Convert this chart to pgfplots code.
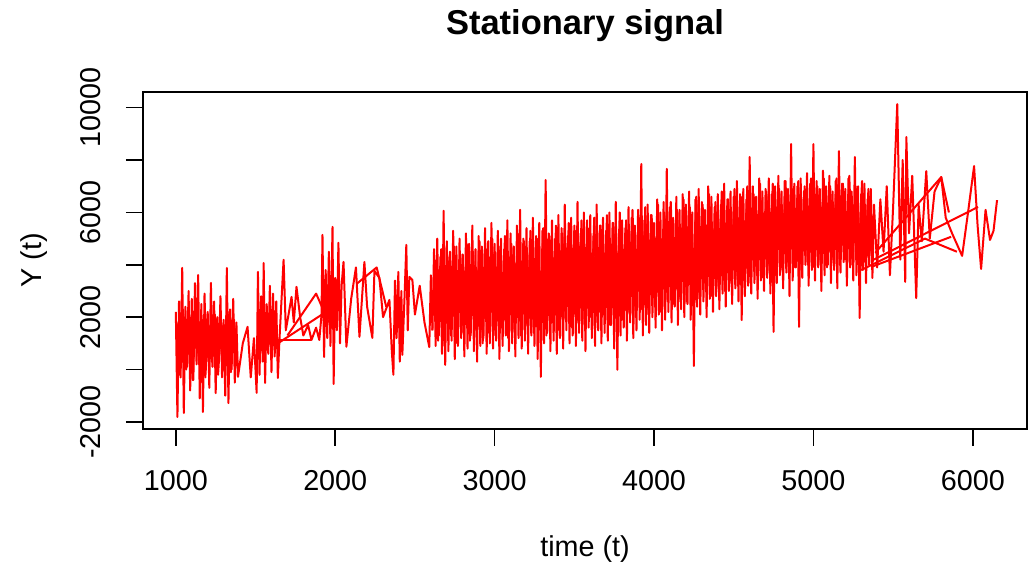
\documentclass[border=0pt]{standalone}
\usepackage{fontspec}
\setmainfont{Liberation Sans}
\usepackage{pgfplots}
\pgfplotsset{compat=1.18}

\tikzset{sig/.style={color=red, line width=0.8pt, line join=round, mark=none}}

\begin{document}
\begin{tikzpicture}
\begin{axis}[
    name=ax,
    scale only axis,
    width=353.6pt, height=134.8pt,
    xmin=794, xmax=6340, ymin=-2270, ymax=10600,
    scaled x ticks=false, scaled y ticks=false,
    axis line style={line width=0.6pt, black},
    tick pos=left, tick align=outside,
    major tick length=6.8pt,
    every tick/.style={black, line width=0.6pt},
    xtick={1000,2000,3000,4000,5000,6000},
    xticklabels={1000,2000,3000,4000,5000,6000},
    ytick={-2000,0,2000,4000,6000,8000,10000},
    yticklabels={-2000,,2000,,6000,,10000},
    every tick label/.append style={font=\fontsize{11.5}{13}\selectfont, inner sep=0pt},
    xticklabel style={anchor=center, yshift=-14pt},
    yticklabel style={xshift=-14pt, rotate=90, anchor=center},
    title={Stationary signal},
    title style={font=\bfseries\fontsize{13.8}{16}\selectfont, at={(axis description cs:0.5,1.1246)}, anchor=base, inner sep=0pt},
    xlabel={time (t)},
    xlabel style={font=\fontsize{11.5}{13}\selectfont, at={(axis description cs:0.5,-0.3798)}, anchor=base, inner sep=0pt},
    ylabel={Y (t)},
    ylabel style={font=\fontsize{11.5}{13}\selectfont, at={(axis description cs:-0.1143,0.5)}, anchor=base, inner sep=0pt},
]
% first bursts, 1000 - 2620
\addplot[sig] coordinates {
(1000,2200)(1010,-1810)(1020,2600)(1030,-300)(1040,3880)(1050,-1660)(1060,2400)(1070,100)
(1080,3000)(1090,-800)(1100,2700)(1110,-400)(1120,3300)(1130,200)(1140,3610)(1150,-1100)
(1160,2500)(1170,-1620)(1180,2900)(1190,300)(1200,2200)(1210,-700)(1220,3310)(1230,100)
(1240,2600)(1250,-900)(1260,2000)(1270,400)(1280,2800)(1290,-300)(1300,1900)(1310,-1000)
(1320,3880)(1330,-1280)(1340,2300)(1350,0)(1360,2700)(1370,-500)(1380,1800)(1390,-280)
(1420,1000)(1450,1630)(1470,-300)(1490,1200)(1507,-890)(1515,3730)(1525,-200)(1535,2800)
(1545,300)(1551,4070)(1560,-510)(1570,2500)(1580,600)(1590,3200)(1600,-100)(1610,2900)
(1620,500)(1630,2600)(1640,-320)(1650,1130)(1676,4190)(1690,1500)(1710,2200)(1726,2775)
(1740,1800)(1757,3160)(1780,2000)(1800,1300)(1830,1700)(1851,1130)(1880,1600)(1900,1130)
(1914,2090)(1920,5140)(1930,480)(1940,3800)(1950,1200)(1960,4500)(1970,900)(1983,5450)
(1990,-550)(2000,3500)(2010,1500)(2020,4840)(2030,1000)(2040,3200)(2052,4110)(2070,870)
(2100,2700)(2130,3900)(2152,1250)(2183,4110)(2200,2400)(2233,1210)(2246,3770)(2277,3500)
(2300,2000)(2340,2660)(2355,700)(2365,-200)(2375,3400)(2385,1200)(2396,3730)(2405,300)
(2415,3000)(2421,560)(2435,2800)(2446,4760)(2455,1500)(2465,3540)(2484,3420)(2500,2100)
(2530,3200)(2560,1800)(2590,860)(2600,3600)(2610,1500)
};
\addplot[sig] coordinates {
(1005,1800)(1025,-200)(1045,2300)(1065,0)(1085,2000)(1105,-400)(1125,2400)(1145,200)
(1165,1900)(1185,-300)(1205,1700)(1225,300)(1245,2100)(1265,-200)(1285,1800)(1305,100)
(1325,2200)(1345,-100)(1365,1900)(1385,400)
};
% dense part, 2620 - 5380
\addplot[sig] coordinates {
(2610,1500)(2620,4600)(2630,900)(2640,5000)(2650,1300)(2660,4300)(2670,600)(2680,6060)(2690,180)
(2700,4900)(2710,700)(2720,4500)(2730,1100)(2740,5300)(2750,400)(2760,4700)(2770,900)(2780,5000)(2790,1200)
(2800,4400)(2810,500)(2820,5200)(2830,800)(2840,4800)(2850,1300)(2860,5500)(2870,700)(2880,4600)(2890,300)
(2900,5100)(2910,900)(2920,4700)(2930,1200)(2940,5400)(2950,600)(2960,4900)(2970,1000)(2980,5600)(2990,800)
(3000,4800)(3010,1100)(3020,5300)(3030,400)(3040,5000)(3050,900)(3060,4600)(3070,1300)(3080,5700)(3090,700)
(3100,5200)(3110,1000)(3120,4700)(3130,500)(3140,5500)(3150,1200)(3160,6100)(3170,800)(3180,5000)(3190,1100)
(3200,5400)(3210,600)(3220,4900)(3230,1300)(3240,5800)(3250,900)(3260,5100)(3270,400)(3280,5600)(3290,-280)
(3300,5300)(3310,1000)(3320,7240)(3330,1400)(3340,5200)(3350,700)(3360,5700)(3370,1100)(3380,5000)(3390,600)
(3400,5900)(3410,1200)(3420,5400)(3430,800)(3440,6300)(3450,1500)(3460,5100)(3470,1000)(3480,5800)(3490,1300)
(3500,5500)(3510,900)(3520,6400)(3530,1400)(3540,5200)(3550,1100)(3560,6000)(3570,700)(3580,5700)(3590,1600)
(3600,5900)(3610,1200)(3620,5100)(3630,900)(3640,6300)(3650,1500)(3660,5500)(3670,1000)(3680,5800)(3690,1400)
(3700,5300)(3710,1100)(3720,6000)(3730,1700)(3740,5600)(3750,800)(3760,6400)(3770,-10)(3780,5200)(3790,1300)
(3800,5700)(3810,1600)(3820,5400)(3830,1100)(3840,6200)(3850,1800)(3860,5800)(3870,1200)(3880,5500)(3890,1500)
(3900,6100)(3910,1900)(3920,7850)(3930,1300)(3940,5700)(3950,1700)(3960,6300)(3970,1400)(3980,5900)(3990,2000)
(4000,5600)(4010,1600)(4020,6500)(4030,2100)(4040,6000)(4050,1500)(4060,6400)(4070,1900)(4080,7660)(4090,2200)
(4100,6200)(4110,1800)(4120,5800)(4130,2400)(4140,6600)(4150,1700)(4160,6100)(4170,2300)(4180,6700)(4190,2000)
(4200,6300)(4210,2500)(4220,6800)(4230,1900)(4240,6000)(4250,140)(4260,6500)(4270,2400)(4280,6900)(4290,2100)
(4300,6400)(4310,2600)(4320,6100)(4330,2000)(4340,7000)(4350,2700)(4360,6600)(4370,2200)(4380,6200)(4390,2800)
(4400,6700)(4410,2300)(4420,6300)(4430,2900)(4440,7100)(4450,2400)(4460,6500)(4470,3000)(4480,6800)(4490,2500)
(4500,6600)(4510,3100)(4520,7200)(4530,2600)(4540,6700)(4550,1890)(4560,6900)(4570,2800)(4580,6500)(4590,3200)
(4600,8120)(4610,2900)(4620,7000)(4630,3300)(4640,6600)(4650,2700)(4660,7300)(4670,3400)(4680,6800)(4690,3000)
(4700,6900)(4710,3500)(4720,7300)(4730,2900)(4740,6700)(4750,1440)(4760,7000)(4770,3300)(4780,7400)(4790,3600)
(4800,6800)(4810,3100)(4820,7200)(4830,3700)(4840,6900)(4850,2800)(4860,8610)(4870,3400)(4880,7100)(4890,3900)
(4900,7000)(4910,1630)(4920,7300)(4930,3500)(4940,6800)(4950,4000)(4960,7500)(4970,3200)(4980,7100)(4990,3800)
(5000,8610)(5010,3400)(5020,7200)(5030,3900)(5040,6900)(5050,3000)(5060,7600)(5070,3600)(5080,7000)(5090,4000)
(5100,7400)(5110,3300)(5120,6800)(5130,3800)(5140,7200)(5150,3100)(5160,8340)(5170,3700)(5180,7100)(5190,4100)
(5200,6900)(5210,3200)(5220,7300)(5230,3900)(5240,6800)(5250,3400)(5260,8120)(5270,3600)(5280,7000)(5290,1970)
(5300,6700)(5310,3800)(5320,7100)(5330,3300)(5340,6500)(5350,4000)(5360,6900)(5370,3500)(5380,6300)
(5400,3900)(5420,6500)(5440,4500)(5460,7000)(5480,3600)(5500,6200)(5526,10140)(5545,4200)(5560,8000)
(5576,3350)(5583,8880)(5600,5200)(5620,7400)(5645,2730)(5660,6300)(5680,4900)(5708,7580)(5730,5000)
(5760,6800)(5802,7350)(5830,5800)(5870,5200)(5933,4340)(5970,6000)(6008,7770)(6030,5500)(6052,3840)
(6080,6100)(6108,4950)(6130,5300)(6152,6470)
};
% second pass through the dense part
\addplot[sig] coordinates {
(2625,4200)(2645,1100)(2665,4600)(2685,900)(2705,4300)(2725,1300)(2745,4700)(2765,1000)(2785,4400)(2805,1400)
(2825,4800)(2845,1100)(2865,4500)(2885,1500)(2905,4900)(2925,1000)(2945,4600)(2965,1400)(2985,5000)(3005,1300)
(3025,4700)(3045,1600)(3065,5100)(3085,1200)(3105,4800)(3125,1500)(3145,5200)(3165,1300)(3185,4900)(3205,1700)
(3225,5300)(3245,1400)(3265,5000)(3285,1600)(3305,5400)(3325,1300)(3345,5100)(3365,1800)(3385,5500)(3405,1500)
(3425,5200)(3445,1900)(3465,5600)(3485,1600)(3505,5300)(3525,1800)(3545,5700)(3565,1700)(3585,5400)(3605,2000)
(3625,5800)(3645,1800)(3665,5500)(3685,2100)(3705,5900)(3725,1700)(3745,5600)(3765,2000)(3785,6000)(3805,1900)
(3825,5700)(3845,2200)(3865,6100)(3885,2000)(3905,5800)(3925,2300)(3945,6200)(3965,2100)(3985,5900)(4005,2400)
(4025,6300)(4045,2200)(4065,6000)(4085,2600)(4105,6400)(4125,2500)(4145,6100)(4165,2700)(4185,6500)(4205,2600)
(4225,6200)(4245,2900)(4265,6600)(4285,2700)(4305,6300)(4325,3000)(4345,6700)(4365,2800)(4385,6400)(4405,3100)
(4425,6800)(4445,3000)(4465,6500)(4485,3300)(4505,6900)(4525,3200)(4545,6600)(4565,3400)(4585,7000)(4605,3300)
(4625,6700)(4645,3600)(4665,7100)(4685,3500)(4705,6800)(4725,3700)(4745,7100)(4765,3600)(4785,6900)(4805,3800)
(4825,7200)(4845,3700)(4865,6900)(4885,3900)(4905,7200)(4925,3800)(4945,7000)(4965,4000)(4985,7300)(5005,3900)
(5025,7000)(5045,4100)(5065,7300)(5085,3900)(5105,7000)(5125,4200)(5145,7300)(5165,4000)(5185,7100)(5205,4200)
(5225,7400)(5245,4000)(5265,7000)(5285,4300)(5305,7200)(5325,4100)(5345,6900)(5365,4400)
};
% lines joining the bursts
\addplot[sig] coordinates {(1651,1130)(1851,1130)};
\addplot[sig] coordinates {(1640,1000)(1914,2090)};
\addplot[sig] coordinates {(1700,1300)(1880,2900)(1960,1800)};
\addplot[sig] coordinates {(2140,3300)(2260,3900)(2320,2400)};
\addplot[sig] coordinates {(5363,3920)(5864,5070)};
\addplot[sig] coordinates {(5376,4190)(6033,6210)};
\addplot[sig] coordinates {(5388,4460)(5802,7350)(5850,6000)};
\addplot[sig] coordinates {(5300,3800)(5700,5000)(5900,4500)};
\end{axis}
\pgfresetboundingbox
\path[use as bounding box] ([shift={(-57.2pt,-57.2pt)}]ax.south west) rectangle ([shift={(1.2pt,36.8pt)}]ax.north east);
\end{tikzpicture}
\end{document}
